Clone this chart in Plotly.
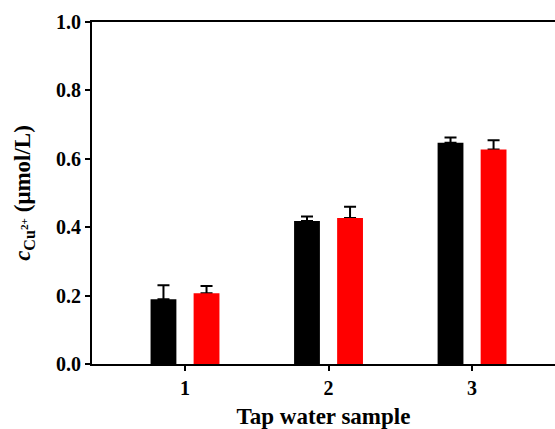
import plotly.graph_objects as go

samples = [1, 2, 3]
tick_labels = ["1", "2", "3"]
black_vals = [0.189, 0.418, 0.647]
black_err = [0.041, 0.013, 0.015]
red_vals = [0.207, 0.427, 0.627]
red_err = [0.021, 0.033, 0.027]
y_ticks = [0.0, 0.2, 0.4, 0.6, 0.8, 1.0]

BAR_W = 0.18
OFF = 0.15
FONT = "Liberation Serif"

fig = go.Figure()

def err_trace(vals, err, offset):
    # transparent carrier bar for error bars, drawn beneath the visible bar
    return go.Bar(
        x=samples, y=vals, width=BAR_W, offset=offset - BAR_W / 2,
        marker=dict(color="rgba(0,0,0,0)", line=dict(width=0)),
        error_y=dict(type="data", symmetric=False, array=err,
                     arrayminus=[0] * len(err), color="black",
                     thickness=2, width=6),
        showlegend=False, hoverinfo="skip",
    )

fig.add_trace(err_trace(black_vals, black_err, -OFF))
fig.add_trace(err_trace(red_vals, red_err, OFF))
fig.add_trace(go.Bar(x=samples, y=black_vals, width=BAR_W, offset=-OFF - BAR_W / 2,
                     marker=dict(color="black", line=dict(width=0)), showlegend=False))
fig.add_trace(go.Bar(x=samples, y=red_vals, width=BAR_W, offset=OFF - BAR_W / 2,
                     marker=dict(color="#ff0000", line=dict(width=0)), showlegend=False))

fig.update_layout(
    width=555, height=429,
    margin=dict(l=92, r=0, t=22, b=65),
    barmode="overlay",
    plot_bgcolor="white", paper_bgcolor="white",
    font=dict(family=FONT, color="black"),
    showlegend=False,
)
fig.update_xaxes(
    range=[0.352, 3.578], automargin=False,
    tickvals=samples, ticktext=["<b>%s</b>" % t for t in tick_labels],
    ticks="outside", ticklen=5, tickwidth=2, tickcolor="black",
    showline=True, linewidth=2, linecolor="black", mirror=True,
    showgrid=False, zeroline=False,
    tickfont=dict(family=FONT, size=20, color="black"),
    title=dict(text="<b>Tap water sample</b>",
               font=dict(family=FONT, size=23, color="black"), standoff=17),
)
fig.update_yaxes(
    range=[0, 1.0], automargin=False,
    tickvals=y_ticks, ticktext=["<b>%.1f</b>" % v for v in y_ticks],
    ticks="outside", ticklen=5, tickwidth=2, tickcolor="black",
    showline=True, linewidth=2, linecolor="black", mirror=False,
    showgrid=False, zeroline=False,
    tickfont=dict(family=FONT, size=20, color="black"),
    title=dict(text="<b><i>c</i><sub>Cu<sup>2+</sup></sub> (μmol/L)</b>",
               font=dict(family=FONT, size=23, color="black"), standoff=19),
)

fig.write_html("out.html", config={"displayModeBar": False},
               post_script="document.body.style.margin='0px';")
